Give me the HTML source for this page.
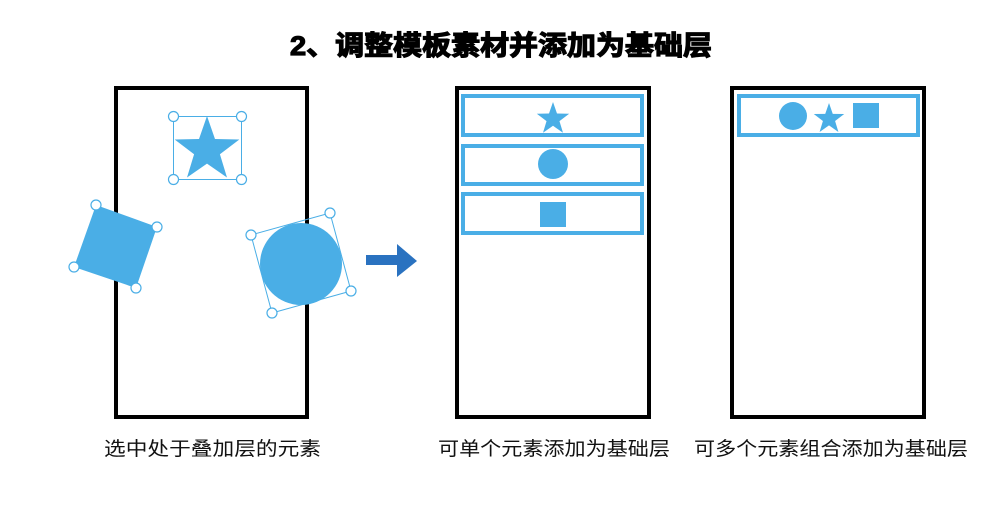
<!DOCTYPE html>
<html><head><meta charset="utf-8"><style>
html,body{margin:0;padding:0;background:#fff;width:1000px;height:521px;overflow:hidden}
text{font-family:"Liberation Sans","Noto Sans CJK SC",sans-serif}
</style></head><body>
<svg width="1000" height="521" viewBox="0 0 1000 521" xmlns="http://www.w3.org/2000/svg">
<defs>
<polygon id="st" points="0,-1 0.235,-0.324 0.951,-0.309 0.38,0.124 0.588,0.809 0,0.4 -0.588,0.809 -0.38,0.124 -0.951,-0.309 -0.235,-0.324"/>
</defs>
<text x="290" y="55" font-size="27" font-weight="bold" textLength="422" lengthAdjust="spacingAndGlyphs" fill="#000" stroke="#000" stroke-width="1.2">2、调整模板素材并添加为基础层</text>

<rect x="116" y="88" width="191" height="329" fill="none" stroke="#000" stroke-width="4"/>
<use href="#st" transform="translate(207,150) scale(34)" fill="#4aaee6"/>
<rect x="173.5" y="116.5" width="68" height="63" fill="none" stroke="#4aaee6" stroke-width="1"/>
<g fill="#fff" stroke="#4aaee6" stroke-width="1.2">
<circle cx="173.5" cy="116.5" r="5"/><circle cx="241.5" cy="116.5" r="5"/><circle cx="173.5" cy="179.5" r="5"/><circle cx="241.5" cy="179.5" r="5"/>
</g>
<polygon points="96,205 157,227 136,288 74,267" fill="#4aaee6"/>
<g fill="#fff" stroke="#4aaee6" stroke-width="1.2">
<circle cx="96" cy="205" r="5"/><circle cx="157" cy="227" r="5"/><circle cx="136" cy="288" r="5"/><circle cx="74" cy="267" r="5"/>
</g>
<circle cx="301" cy="264" r="41" fill="#4aaee6"/>
<polygon points="251,235 330,213 351,291 272,313" fill="none" stroke="#4aaee6" stroke-width="1"/>
<g fill="#fff" stroke="#4aaee6" stroke-width="1.2">
<circle cx="251" cy="235" r="5"/><circle cx="330" cy="213" r="5"/><circle cx="351" cy="291" r="5"/><circle cx="272" cy="313" r="5"/>
</g>

<rect x="366" y="255" width="33" height="10" fill="#2a72c0"/>
<polygon points="397,244 417,261 397,277" fill="#2a72c0"/>

<rect x="457" y="88" width="192" height="329" fill="none" stroke="#000" stroke-width="4"/>
<g fill="none" stroke="#4aaee6" stroke-width="4">
<rect x="463" y="96" width="179" height="39"/>
<rect x="463" y="146" width="179" height="38"/>
<rect x="463" y="194" width="179" height="39"/>
</g>
<use href="#st" transform="translate(553,119) scale(17)" fill="#4aaee6"/>
<circle cx="553" cy="164" r="15" fill="#4aaee6"/>
<rect x="540" y="202" width="26" height="25" fill="#4aaee6"/>

<rect x="732" y="88" width="192" height="329" fill="none" stroke="#000" stroke-width="4"/>
<rect x="739" y="96" width="179" height="39" fill="none" stroke="#4aaee6" stroke-width="4"/>
<circle cx="793" cy="116" r="14" fill="#4aaee6"/>
<use href="#st" transform="translate(829,119) scale(16)" fill="#4aaee6"/>
<rect x="853" y="103" width="26" height="25" fill="#4aaee6"/>

<text x="104" y="455" font-size="19" textLength="217" lengthAdjust="spacingAndGlyphs" fill="#111">选中处于叠加层的元素</text>
<text x="438" y="455" font-size="19" textLength="232" lengthAdjust="spacingAndGlyphs" fill="#111">可单个元素添加为基础层</text>
<text x="694" y="455" font-size="19" textLength="274" lengthAdjust="spacingAndGlyphs" fill="#111">可多个元素组合添加为基础层</text>
</svg>
</body></html>
